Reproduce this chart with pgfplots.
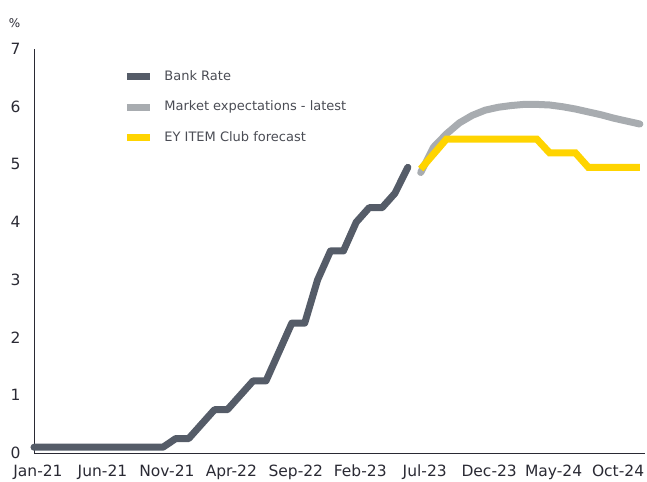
\documentclass[border=0pt]{standalone}
\usepackage{pgfplots}
\pgfplotsset{compat=1.18}
\usepackage{fontspec}
\setmainfont{DejaVu Sans}
\definecolor{bankc}{HTML}{555C68}
\definecolor{mktc}{HTML}{A8ACB0}
\definecolor{eyc}{HTML}{FFD400}
\definecolor{txtc}{HTML}{2A2A34}
\definecolor{legc}{HTML}{4A4C54}
\begin{document}
\begin{tikzpicture}
\begin{axis}[
  scale only axis,
  width=611bp, height=404bp,
  xmin=0, xmax=47.4, ymin=0, ymax=7,
  axis x line*=bottom, axis y line*=left,
  axis line style={txtc, line width=0.9pt, -},
  xtick={0,5,...,45},
  xticklabels={Jan-21,Jun-21,Nov-21,Apr-22,Sep-22,Feb-23,Jul-23,Dec-23,May-24,Oct-24},
  ytick={0,1,...,7},
  major tick length=0pt,
  /pgf/number format/assume math mode=true,
  tick label style={font=\fontsize{15.5bp}{18bp}\selectfont, text=txtc},
  xticklabel style={yshift=-8bp, xshift=4bp},
  yticklabel style={xshift=-10bp},
  clip=false,
  legend style={at={(axis description cs:0.146,0.953)}, anchor=north west, draw=none, fill=none,
    inner sep=0pt,
    font=\fontsize{13bp}{15bp}\selectfont, text=legc, row sep=13.5bp,
    nodes={inner sep=2bp, text height=10bp, text depth=3bp},
    /tikz/every odd column/.append style={column sep=9bp}},
  legend cell align=left,
  legend image code/.code={\draw[line width=7bp, line cap=butt] (0bp,0bp) -- (23bp,0bp);},
]
\addplot[bankc, line width=7bp, line join=round, line cap=round] coordinates {
(0,0.1)(1,0.1)(2,0.1)(3,0.1)(4,0.1)(5,0.1)(6,0.1)(7,0.1)(8,0.1)(9,0.1)(10,0.1)
(11,0.25)(12,0.25)(13,0.5)(14,0.75)(15,0.75)(16,1.0)(17,1.25)(18,1.25)(19,1.75)
(20,2.25)(21,2.25)(22,3.0)(23,3.5)(24,3.5)(25,4.0)(26,4.25)(27,4.25)(28,4.5)(29,4.95)};
\addlegendentry{Bank Rate}
\addplot[mktc, line width=7bp, line join=round, line cap=round] coordinates {
(30,4.86)(31,5.3)(32,5.53)(33,5.72)(34,5.85)(35,5.94)(36,5.99)(37,6.02)(38,6.04)
(39,6.04)(40,6.03)(41,6.0)(42,5.96)(43,5.91)(44,5.86)(45,5.80)(46,5.75)(47,5.70)};
\addlegendentry{Market expectations - latest}
\addplot[eyc, line width=7bp, line join=miter] coordinates {
(30,4.92)(31,5.18)(32,5.44)(33,5.44)(34,5.44)(35,5.44)(36,5.44)(37,5.44)(38,5.44)(39,5.44)
(40,5.2)(41,5.2)(42,5.2)(43,4.95)(44,4.95)(45,4.95)(46,4.95)(47,4.95)};
\addlegendentry{EY ITEM Club forecast}
\coordinate (O) at (rel axis cs:0,0);
\node[text=txtc, font=\fontsize{12bp}{14bp}\selectfont] at (rel axis cs:0,1) [xshift=-19.5bp, yshift=26bp] {\%};
\end{axis}
\pgfresetboundingbox
\path (O) ++(-34bp,-29bp) rectangle ++(647bp,482bp);
\end{tikzpicture}
\end{document}
